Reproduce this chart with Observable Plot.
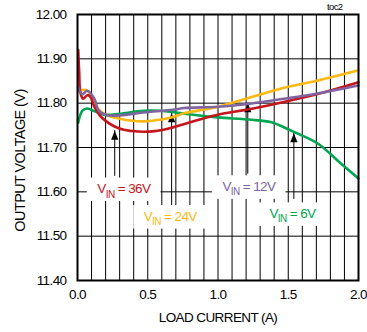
<!DOCTYPE html>
<html>
<head>
<meta charset="utf-8">
<script src="https://cdn.jsdelivr.net/npm/d3@7"></script>
<script src="https://cdn.jsdelivr.net/npm/@observablehq/plot@0.6"></script>
<style>
  html, body { margin: 0; padding: 0; background: #fff; }
  #chart svg text { letter-spacing: -0.6px; }
</style>
</head>
<body>
<div id="chart"></div>
<script>
// ---- data ----
const current36 = [0.005, 0.012, 0.02, 0.04, 0.07, 0.09, 0.12, 0.16, 0.20, 0.26, 0.33, 0.43, 0.55, 0.65, 0.75, 0.90, 1.00, 1.25, 1.50, 1.75, 2.00];
const volt36    = [11.92, 11.87, 11.825, 11.81, 11.818, 11.815, 11.792, 11.772, 11.76, 11.748, 11.74, 11.736, 11.737, 11.743, 11.752, 11.766, 11.774, 11.788, 11.805, 11.824, 11.847];

const current24 = [0.005, 0.03, 0.06, 0.10, 0.14, 0.20, 0.30, 0.47, 0.66, 0.76, 1.00, 1.20, 1.47, 1.71, 2.00];
const volt24    = [11.826, 11.829, 11.83, 11.817, 11.79, 11.774, 11.765, 11.759, 11.767, 11.777, 11.792, 11.81, 11.835, 11.851, 11.874];

const current12 = [0.005, 0.035, 0.07, 0.12, 0.15, 0.20, 0.28, 0.47, 0.68, 0.76, 1.00, 1.25, 1.47, 1.71, 2.00];
const volt12    = [11.835, 11.82, 11.828, 11.81, 11.783, 11.774, 11.772, 11.779, 11.785, 11.789, 11.792, 11.80, 11.81, 11.822, 11.84];

const current6 = [0.005, 0.035, 0.07, 0.12, 0.19, 0.30, 0.47, 0.66, 0.76, 1.00, 1.22, 1.38, 1.52, 1.71, 1.87, 2.00];
const volt6    = [11.756, 11.783, 11.788, 11.782, 11.774, 11.776, 11.783, 11.781, 11.776, 11.768, 11.763, 11.757, 11.738, 11.709, 11.665, 11.63];

const seriesNames  = ["36V", "24V", "12V", "6V"];
const seriesColors = ["#c4161c", "#fdb913", "#8064a2", "#00a651"];

// annotation arrows: x position, arrow tip, arrow tail (data units)
const arrowCurrent = [0.265, 0.67, 1.212, 1.54];
const arrowTipV    = [11.738, 11.777, 11.80, 11.732];
const arrowTailV   = [11.635, 11.563, 11.64, 11.583];

// label positions (data units)
const labelCurrent = [0.33, 0.66, 1.22, 1.53];
const labelVolt    = [11.607, 11.545, 11.612, 11.551];

const xTicks = [0, 0.5, 1.0, 1.5, 2.0];
const yTicks = [11.4, 11.5, 11.6, 11.7, 11.8, 11.9, 12.0];
const xGrid = d3.range(0, 21).map(i => i / 10);

// ---- build table ----
function series(name, cs, vs) { return cs.map((c, i) => ({name, c, v: vs[i]})); }
const s36 = series("36V", current36, volt36);
const s24 = series("24V", current24, volt24);
const s12 = series("12V", current12, volt12);
const s6  = series("6V",  current6,  volt6);

const arrows = arrowCurrent.map((c, i) => ({c, tip: arrowTipV[i], tail: arrowTailV[i]}));
const labels = seriesNames.map((n, i) => ({name: n, c: labelCurrent[i], v: labelVolt[i], color: seriesColors[i]}));

const arrowHead = {
  draw(context) {
    context.moveTo(0, 0);
    context.lineTo(-3.6, 9);
    context.lineTo(3.6, 9);
    context.closePath();
  }
};

const FONT = "'Liberation Sans', Arial, Helvetica, sans-serif";

const lineOpts = (color) => ({x: "c", y: "v", stroke: color, strokeWidth: 2.6, curve: "catmull-rom"});

const chart = Plot.plot({
  width: 367,
  height: 332,
  marginLeft: 77,
  marginRight: 9,
  marginTop: 14,
  marginBottom: 52,
  style: {fontFamily: FONT, fontSize: "13.5px", color: "#000", background: "#fff", overflow: "visible"},
  x: {domain: [0, 2], label: null},
  y: {domain: [11.4, 12.0], label: null},
  marks: [
    Plot.gridX(xGrid, {stroke: "#000", strokeOpacity: 1, strokeWidth: 1}),
    Plot.gridY(yTicks, {stroke: "#000", strokeOpacity: 1, strokeWidth: 1}),
    Plot.axisX(xTicks, {tickSize: 0, tickPadding: 9, tickFormat: d3.format(".1f"), label: null, fontSize: 13.5}),
    Plot.axisY(yTicks, {tickSize: 0, tickPadding: 11, tickFormat: d3.format(".2f"), label: null, fontSize: 13.5}),
    Plot.ruleX(arrows, {x: "c", y1: "tip", y2: "tail", stroke: "#000", strokeWidth: 1}),
    Plot.dot(arrows, {x: "c", y: "tip", symbol: arrowHead, fill: "#000", stroke: null, r: 4}),
    Plot.line(s6,  lineOpts(seriesColors[3])),
    Plot.line(s24, lineOpts(seriesColors[1])),
    Plot.line(s36, lineOpts(seriesColors[0])),
    Plot.line(s12, lineOpts(seriesColors[2])),
    Plot.text(labels, {x: "c", y: "v", text: d => "V_IN = " + d.name, fill: "color", fontSize: 13.5, textAnchor: "middle"}),
    Plot.frame({stroke: "#000", strokeWidth: 2}),
    Plot.text(["LOAD CURRENT (A)"], {frameAnchor: "bottom", dy: 41, fontSize: 13.5, fill: "#000"}),
    Plot.text(["OUTPUT VOLTAGE (V)"], {frameAnchor: "left", dx: -57, dy: 13, rotate: -90, textAnchor: "middle", fontSize: 14.5, fill: "#000"}),
    Plot.text(["toc2"], {frameAnchor: "top-right", dx: -16, dy: -7.5, lineAnchor: "middle", textAnchor: "end", fontSize: 9.5, fill: "#000"})
  ]
});

document.getElementById("chart").appendChild(chart);

// subscripts + white boxes behind the V_IN labels
const ns = "http://www.w3.org/2000/svg";
const labelTexts = Array.from(chart.querySelectorAll("text")).filter(t => t.textContent.indexOf("V_IN") === 0);
labelTexts.forEach(t => {
  const parts = t.textContent.split("_IN");
  while (t.firstChild) t.removeChild(t.firstChild);
  const a = document.createElementNS(ns, "tspan"); a.textContent = parts[0];
  const b = document.createElementNS(ns, "tspan"); b.textContent = "IN"; b.setAttribute("dy", "4.5"); b.setAttribute("font-size", "10");
  const c = document.createElementNS(ns, "tspan"); c.textContent = parts[1]; c.setAttribute("dy", "-4.5");
  t.appendChild(a); t.appendChild(b); t.appendChild(c);
});
if (labelTexts.length) {
  const group = labelTexts[0].parentNode;
  const boxes = document.createElementNS(ns, "g");
  labelTexts.forEach(t => {
    const bb = t.getBBox();
    let tx = 0, ty = 0;
    const tr = t.getAttribute("transform");
    if (tr) {
      const m = tr.match(/translate\(\s*([-\d.e]+)[,\s]+([-\d.e]+)\s*\)/);
      if (m) { tx = +m[1]; ty = +m[2]; }
    }
    const r = document.createElementNS(ns, "rect");
    r.setAttribute("x", bb.x + tx - 10);
    r.setAttribute("y", bb.y + ty - 3);
    r.setAttribute("width", bb.width + 20);
    r.setAttribute("height", bb.height + 5);
    r.setAttribute("fill", "#fff");
    boxes.appendChild(r);
  });
  group.parentNode.insertBefore(boxes, group);
}
</script>
</body>
</html>
